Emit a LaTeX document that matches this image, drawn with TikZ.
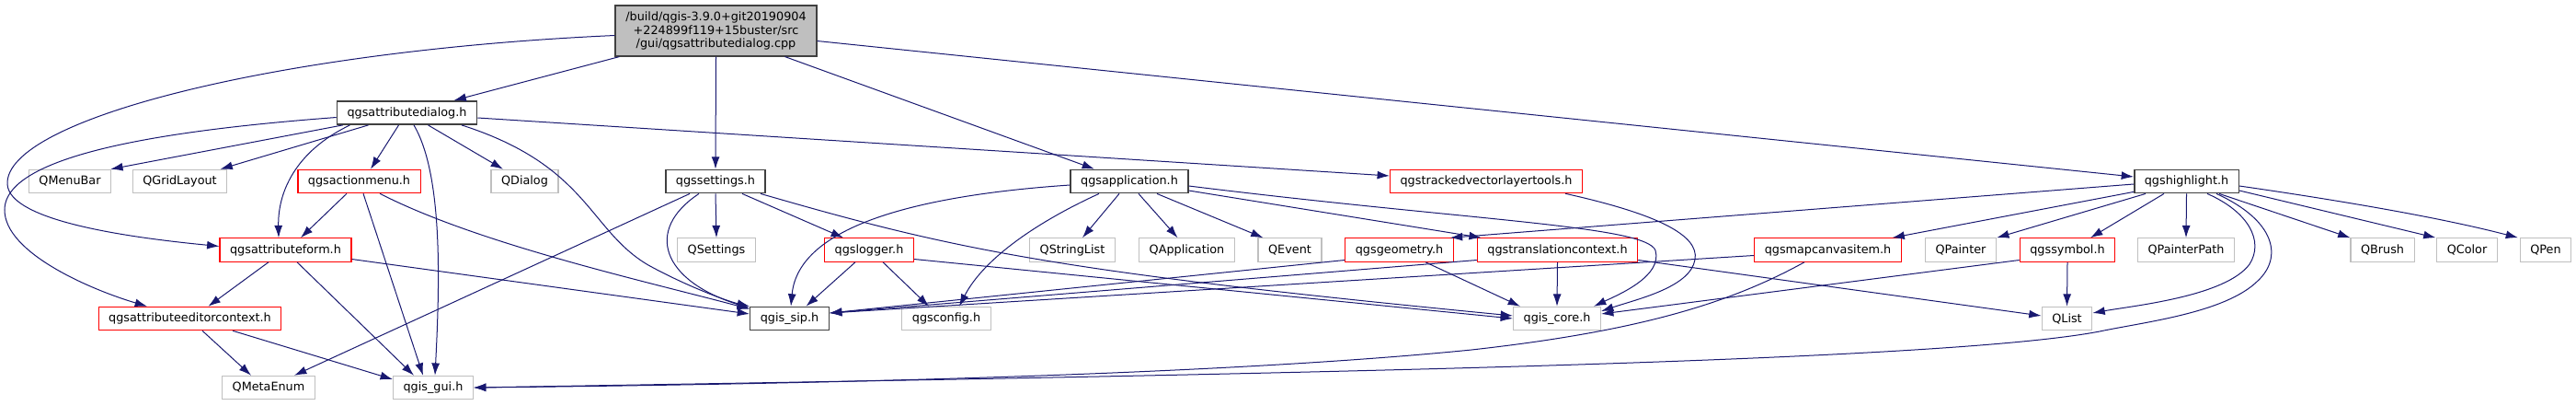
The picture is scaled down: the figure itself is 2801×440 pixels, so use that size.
\documentclass[tikz,border=0pt]{standalone}
\usepackage{fontspec}
\setmainfont{DejaVu Sans}
\usetikzlibrary{arrows.meta, calc, positioning}

\definecolor{edgeblue}{HTML}{191970}
\definecolor{boxblack}{HTML}{404040}
\definecolor{boxgray}{HTML}{BFBFBF}

\begin{document}
\begin{tikzpicture}[x=0.75pt, y=-0.75pt,
  box/.style={draw, rectangle, font=\fontsize{9.6}{11.2}\selectfont, inner xsep=8.3pt, inner ysep=0pt, minimum height=19pt},
  docbox/.style={box, draw=boxblack, line width=1.1pt},
  redbox/.style={box, draw=red, line width=0.9pt},
  extbox/.style={box, draw=boxgray, line width=0.9pt},
  rootbox/.style={box, draw=boxblack, fill=boxgray, line width=1.1pt, align=center, minimum width=164pt, minimum height=41pt},
  incl/.style={-{Latex[length=10pt,width=6.7pt]}, draw=edgeblue, line width=0.75pt}]
\useasboundingbox (0,0) rectangle (2801,440);

% Source file and first level
\node[rootbox] (root) at (778.5,33.5) {/build/qgis-3.9.0+git20190904\\+224899f119+15buster/src\\/gui/qgsattributedialog.cpp};
\node[docbox] (dialog) at (442.5,122.5) {qgsattributedialog.h};

% Row 2
\node[extbox] (menubar) at (76,197) {QMenuBar};
\node[extbox] (gridlayout) at (195.5,197) {QGridLayout};
\node[redbox] (actionmenu) at (390.5,197) {qgsactionmenu.h};
\node[extbox] (qdialog) at (570.5,197) {QDialog};
\node[docbox] (settings) at (778,197) {qgssettings.h};
\node[docbox] (application) at (1228,197) {qgsapplication.h};
\node[redbox] (tracked) at (1616,197) {qgstrackedvectorlayertools.h};
\node[docbox] (highlight) at (2377.5,197) {qgshighlight.h};

% Row 3
\node[redbox] (form) at (310.5,271.5) {qgsattributeform.h};
\node[extbox] (qsettings) at (779,271.5) {QSettings};
\node[redbox] (logger) at (945,271.5) {qgslogger.h};
\node[extbox] (stringlist) at (1166,271.5) {QStringList};
\node[extbox] (qapplication) at (1290.5,271.5) {QApplication};
\node[extbox] (qevent) at (1402.5,271.5) {QEvent};
\node[redbox] (geometry) at (1521.5,271.5) {qgsgeometry.h};
\node[redbox] (translation) at (1693.5,271.5) {qgstranslationcontext.h};
\node[redbox] (mapcanvas) at (1987.5,271.5) {qgsmapcanvasitem.h};
\node[extbox] (qpainter) at (2132,271.5) {QPainter};
\node[redbox] (symbol) at (2248,271.5) {qgssymbol.h};
\node[extbox] (painterpath) at (2377,271.5) {QPainterPath};
\node[extbox] (qbrush) at (2590.5,271.5) {QBrush};
\node[extbox] (qcolor) at (2682.5,271.5) {QColor};
\node[extbox] (qpen) at (2768,271.5) {QPen};

% Row 4 and 5
\node[redbox] (context) at (206.5,346) {qgsattributeeditorcontext.h};
\node[docbox] (sip) at (858.5,346) {qgis\_sip.h};
\node[extbox] (config) at (1029,346) {qgsconfig.h};
\node[extbox] (core) at (1693,346) {qgis\_core.h};
\node[extbox] (qlist) at (2247.5,346) {QList};
\node[extbox] (metaenum) at (292,421) {QMetaEnum};
\node[extbox] (gui) at (471,421) {qgis\_gui.h};

% includes of the source file
\draw[incl] ($(root.south)+(-105,0)$) -- ($(dialog.north)+(51,0)$);
\draw[incl] ($(root.west)+(0,5)$) .. controls (300,55) and (5,130) .. (8,200) .. controls (10,240) and (140,258) .. ($(form.west)+(0,-4)$);
\draw[incl] (root.south) -- (settings.north);
\draw[incl] ($(root.south)+(75,0)$) -- ($(application.north)+(-38,0)$);
\draw[incl] ($(root.east)+(0,11)$) -- ($(highlight.west)+(0,-5)$);

% qgsattributedialog.h
\draw[incl] ($(dialog.south west)+(7,0)$) -- ($(menubar.north east)+(-1,0)$);
\draw[incl] ($(dialog.south)+(-42,0)$) -- ($(gridlayout.north)+(44,0)$);
\draw[incl] ($(dialog.south)+(-9,0)$) -- ($(actionmenu.north)+(12.5,0)$);
\draw[incl] ($(dialog.south)+(23,0)$) -- ($(qdialog.north)+(-23.5,0)$);
\draw[incl] ($(dialog.south)+(-62,0)$) .. controls (320,165) and (302,210) .. ($(form.north)+(-7.5,0)$);
\draw[incl] ($(dialog.west)+(0,5)$) .. controls (200,140) and (5,165) .. (5,228) .. controls (5,275) and (100,315) .. ($(context.north)+(-46.5,0)$);
\draw[incl] ($(dialog.south)+(7.5,0)$) .. controls (482,190) and (478,310) .. ($(gui.north)+(2,0)$);
\draw[incl] ($(dialog.south)+(59.5,0)$) .. controls (640,180) and (640,250) .. (705,288) .. controls (745,310) and (790,327) .. (sip.north west);
\draw[incl] ($(dialog.east)+(0,5.5)$) -- ($(tracked.west)+(0,-6)$);

% qgsactionmenu.h
\draw[incl] ($(actionmenu.south)+(-13.5,0)$) -- ($(form.north)+(16.5,0)$);
\draw[incl] ($(actionmenu.south)+(4.5,0)$) -- ($(gui.north)+(-11,0)$);
\draw[incl] ($(actionmenu.south)+(22.5,0)$) .. controls (520,265) and (700,305) .. ($(sip.north west)+(0,3)$);

% qgsattributeform.h
\draw[incl] ($(form.south)+(-18.5,0)$) -- ($(context.north)+(20,0)$);
\draw[incl] ($(form.south)+(12.5,0)$) -- ($(gui.north)+(-21,0)$);
\draw[incl] ($(form.east)+(0,10)$) -- ($(sip.west)+(0,-5)$);

% qgsattributeeditorcontext.h
\draw[incl] ($(context.south)+(13.5,0)$) -- ($(metaenum.north)+(-19,0)$);
\draw[incl] ($(context.south)+(46.5,0)$) -- ($(gui.west)+(0,-9)$);

% qgssettings.h
\draw[incl] ($(settings.south)+(-28,0)$) -- ($(metaenum.north)+(28,0)$);
\draw[incl] ($(settings.south)+(-18,0)$) .. controls (700,250) and (720,305) .. ($(sip.north west)+(0,2)$);
\draw[incl] (settings.south) -- (qsettings.north);
\draw[incl] ($(settings.south)+(29,0)$) -- ($(logger.north)+(-28,0)$);
\draw[incl] ($(settings.south)+(49,0)$) .. controls (1040,272) and (1150,295) .. ($(core.west)+(0,-3)$);

% qgslogger.h
\draw[incl] ($(logger.south)+(-15,0)$) -- ($(sip.north)+(18,0)$);
\draw[incl] ($(logger.south)+(15,0)$) -- ($(config.north)+(-19,0)$);
\draw[incl] ($(logger.east)+(0,10)$) -- (core.west);

% qgsapplication.h
\draw[incl] ($(application.west)+(0,4)$) .. controls (1000,212) and (868,245) .. ($(sip.north)+(1.5,0)$);
\draw[incl] ($(application.south)+(-33,0)$) .. controls (1130,240) and (1070,280) .. ($(config.north)+(14,0)$);
\draw[incl] ($(application.south)+(-11,0)$) -- ($(stringlist.north)+(11,0)$);
\draw[incl] ($(application.south)+(10,0)$) -- ($(qapplication.north)+(-10,0)$);
\draw[incl] ($(application.south)+(30,0)$) -- ($(qevent.north)+(-29,0)$);
\draw[incl] ($(application.east)+(0,10)$) -- ($(translation.north west)+(5,0)$);
\draw[incl] ($(application.east)+(0,5)$) .. controls (1600,240) and (1790,245) .. (1800,272) .. controls (1808,300) and (1760,320) .. ($(core.north)+(40,0)$);

% qgstrackedvectorlayertools.h
\draw[incl] ($(tracked.south)+(86,0)$) .. controls (1800,232) and (1848,255) .. (1843,282) .. controls (1838,312) and (1780,325) .. ($(core.east)+(0,-8)$);

% qgshighlight.h
\draw[incl] ($(highlight.west)+(0,3)$) -- ($(geometry.north east)+(-4,0)$);
\draw[incl] ($(highlight.south west)+(0,-2)$) -- ($(mapcanvas.north)+(70,0)$);
\draw[incl] ($(highlight.south)+(-44.5,0)$) -- (qpainter.north east);
\draw[incl] ($(highlight.south)+(-24.5,0)$) -- ($(symbol.north)+(25,0)$);
\draw[incl] (highlight.south) -- (painterpath.north);
\draw[incl] ($(highlight.south)+(22.5,0)$) .. controls (2445,230) and (2462,262) .. (2446,287) .. controls (2420,322) and (2320,332) .. ($(qlist.east)+(0,-6)$);
\draw[incl] ($(highlight.south)+(32.5,0)$) .. controls (2475,240) and (2482,280) .. (2455,305) .. controls (2420,340) and (2330,350) .. (2283,360) .. controls (2100,395) and (1300,408) .. (gui.east);
\draw[incl] ($(highlight.south)+(35.5,0)$) -- ($(qbrush.north)+(-35,0)$);
\draw[incl] ($(highlight.east)+(0,10)$) -- ($(qcolor.north)+(-34,0)$);
\draw[incl] ($(highlight.east)+(0,5)$) .. controls (2560,220) and (2660,238) .. ($(qpen.north)+(-30,0)$);

% qgsmapcanvasitem.h, qgssymbol.h
\draw[incl] ($(mapcanvas.west)+(0,6)$) -- ($(sip.east)+(0,-6)$);
\draw[incl] ($(mapcanvas.south)+(-25.5,0)$) .. controls (1880,330) and (1780,360) .. (1600,380) .. controls (1300,410) and (800,418) .. (gui.east);
\draw[incl] ($(symbol.west)+(0,11)$) -- ($(core.east)+(0,-5)$);
\draw[incl] (symbol.south) -- (qlist.north);

% qgsgeometry.h, qgstranslationcontext.h
\draw[incl] ($(geometry.west)+(0,11)$) -- ($(sip.east)+(0,-6)$);
\draw[incl] ($(geometry.south)+(28.5,0)$) -- ($(core.north)+(-40,0)$);
\draw[incl] ($(translation.west)+(0,11)$) -- ($(sip.east)+(0,-6)$);
\draw[incl] (translation.south) -- (core.north);
\draw[incl] ($(translation.east)+(0,11)$) -- ($(qlist.west)+(0,-3)$);
\end{tikzpicture}
\end{document}
